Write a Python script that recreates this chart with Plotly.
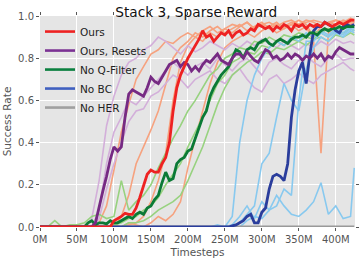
import plotly.graph_objects as go

# ---------------- data ----------------
STEPS_FINE = list(range(0, 430, 5))            # 0..425 M, step 5
STEPS_COARSE = list(range(0, 430, 10)) + [425]  # 0..420 step 10, then 425

ours_mean = [0]*20 + [0.03, 0.04, 0.05, 0.065, 0.06, 0.06, 0.09, 0.14, 0.20, 0.25,
    0.27, 0.26, 0.26, 0.30, 0.33, 0.40, 0.55, 0.66, 0.72, 0.76,
    0.80, 0.83, 0.86, 0.89, 0.93, 0.90, 0.91, 0.88, 0.90, 0.92,
    0.91, 0.93, 0.90, 0.92, 0.93, 0.91, 0.92, 0.94, 0.93, 0.96,
    0.95, 0.94, 0.95, 0.93, 0.95, 0.94, 0.96, 0.95, 0.93, 0.96,
    0.95, 0.96, 0.94, 0.96, 0.95, 0.96, 0.95, 0.97, 0.96, 0.95,
    0.96, 0.97, 0.96, 0.97, 0.98, 0.98]

resets_mean = [0]*15 + [0.02, 0.10, 0.17, 0.24, 0.32, 0.38, 0.36, 0.38, 0.52, 0.63,
    0.65, 0.64, 0.63, 0.62, 0.66, 0.71, 0.69, 0.68, 0.71, 0.74,
    0.77, 0.78, 0.79, 0.76, 0.78, 0.77, 0.74, 0.76, 0.74, 0.77,
    0.79, 0.78, 0.80, 0.82, 0.79, 0.78, 0.77, 0.80, 0.82, 0.82,
    0.80, 0.83, 0.81, 0.79, 0.78, 0.81, 0.84, 0.83, 0.80, 0.81,
    0.79, 0.80, 0.82, 0.80, 0.82, 0.81, 0.79, 0.81, 0.80, 0.82,
    0.80, 0.82, 0.79, 0.81, 0.80, 0.83, 0.85, 0.84, 0.83, 0.82, 0.82]

noq_mean = [0]*13 + [0.02, 0.03, 0.01, 0.02, 0.02, 0.015, 0.03, 0.02, 0.02, 0.03,
    0.04, 0.05, 0.04, 0.06, 0.07, 0.06, 0.09, 0.10, 0.13, 0.15,
    0.21, 0.26, 0.22, 0.23, 0.30, 0.32, 0.33, 0.36, 0.37, 0.42,
    0.46, 0.52, 0.55, 0.62, 0.66, 0.69, 0.72, 0.74, 0.76, 0.80,
    0.84, 0.83, 0.80, 0.84, 0.85, 0.84, 0.87, 0.88, 0.89, 0.87,
    0.86, 0.88, 0.89, 0.88, 0.87, 0.89, 0.90, 0.90, 0.91, 0.90,
    0.92, 0.92, 0.91, 0.93, 0.94, 0.93, 0.94, 0.94, 0.95, 0.94,
    0.95, 0.95, 0.95]

nobc_mean = [0]*52 + [0.005, 0.01, 0.02, 0.03, 0.05, 0.06, 0.02, 0.02,
    0.07, 0.09, 0.18, 0.24, 0.25, 0.24, 0.22, 0.30, 0.52, 0.65,
    0.74, 0.78, 0.68, 0.82, 0.93, 0.95, 0.95, 0.97, 0.96, 0.95,
    0.93, 0.92, 0.95, 0.96, 0.95, 0.96]

noher_mean = [0]*86

ours_runs = [
    [0, 0, 0, 0, 0, 0, 0, 0, 0.02, 0.10, 0.27, 0.45, 0.58, 0.70, 0.76, 0.82, 0.84, 0.88, 0.87, 0.90,
     0.92, 0.90, 0.93, 0.95, 0.92, 0.94, 0.96, 0.95, 0.97, 0.94, 0.96, 0.97, 0.95, 0.97, 0.98, 0.96,
     0.97, 0.98, 0.97, 0.96, 0.98, 0.97, 0.99, 0.98],
    [0, 0, 0, 0, 0, 0, 0, 0, 0, 0, 0, 0.05, 0.15, 0.30, 0.38, 0.46, 0.55, 0.68, 0.80, 0.85,
     0.88, 0.92, 0.90, 0.93, 0.95, 0.92, 0.94, 0.96, 0.93, 0.95, 0.97, 0.94, 0.96, 0.95, 0.97, 0.96,
     0.98, 0.97, 0.95, 0.97, 0.98, 0.96, 0.98, 0.97],
    [0, 0, 0, 0, 0, 0, 0, 0, 0, 0, 0, 0, 0.01, 0.02, 0.05, 0.12, 0.22, 0.35, 0.60, 0.78,
     0.86, 0.90, 0.88, 0.92, 0.90, 0.94, 0.92, 0.95, 0.97, 0.94, 0.96, 0.95, 0.97, 0.94, 0.96, 0.98,
     0.96, 0.90, 0.95, 0.97, 0.96, 0.98, 0.97, 0.98],
    [0, 0, 0, 0, 0, 0, 0, 0, 0, 0, 0.01, 0, 0.02, 0.01, 0, 0.02, 0.05, 0.03, 0.06, 0.12,
     0.28, 0.42, 0.55, 0.68, 0.78, 0.85, 0.88, 0.90, 0.92, 0.90, 0.93, 0.95, 0.92, 0.94, 0.96, 0.93,
     0.95, 0.88, 0.35, 0.92, 0.95, 0.97, 0.96, 0.97],
]

resets_runs = [
    [0, 0, 0, 0, 0, 0, 0, 0.04, 0.22, 0.48, 0.62, 0.72, 0.78, 0.80, 0.84, 0.86, 0.90, 0.88, 0.85, 0.82,
     0.86, 0.83, 0.85, 0.88, 0.86, 0.84, 0.87, 0.85, 0.88, 0.86, 0.89, 0.87, 0.85, 0.88, 0.86, 0.84,
     0.87, 0.85, 0.88, 0.86, 0.89, 0.87, 0.88, 0.87],
    [0, 0, 0, 0, 0, 0, 0, 0, 0.08, 0.30, 0.45, 0.52, 0.60, 0.58, 0.62, 0.66, 0.70, 0.74, 0.78, 0.75,
     0.72, 0.76, 0.78, 0.75, 0.80, 0.77, 0.74, 0.78, 0.80, 0.76, 0.72, 0.78, 0.80, 0.77, 0.75, 0.79,
     0.81, 0.78, 0.76, 0.80, 0.82, 0.79, 0.80, 0.80],
    [0, 0, 0, 0, 0, 0, 0, 0, 0.04, 0.18, 0.30, 0.40, 0.50, 0.55, 0.56, 0.62, 0.64, 0.68, 0.72, 0.70,
     0.66, 0.70, 0.72, 0.74, 0.70, 0.68, 0.72, 0.75, 0.70, 0.66, 0.64, 0.70, 0.72, 0.68, 0.70, 0.73,
     0.70, 0.68, 0.72, 0.74, 0.76, 0.78, 0.75, 0.74],
]

noq_runs = [
    [0, 0, 0.03, 0, 0.01, 0.01, 0.02, 0.05, 0.06, 0.04, 0.05, 0.22, 0.08, 0.12, 0.15, 0.20, 0.28, 0.35, 0.42, 0.48,
     0.55, 0.60, 0.66, 0.72, 0.75, 0.80, 0.82, 0.85, 0.84, 0.88, 0.87, 0.90, 0.88, 0.91, 0.90, 0.92,
     0.91, 0.93, 0.92, 0.94, 0.93, 0.95, 0.94, 0.95],
    [0, 0, 0, 0, 0, 0, 0, 0, 0, 0, 0.01, 0.02, 0.04, 0.05, 0.08, 0.10, 0.14, 0.20, 0.25, 0.30,
     0.38, 0.45, 0.52, 0.60, 0.68, 0.72, 0.78, 0.80, 0.83, 0.82, 0.86, 0.85, 0.88, 0.86, 0.89, 0.88,
     0.90, 0.89, 0.92, 0.90, 0.93, 0.92, 0.94, 0.93],
    [0, 0, 0, 0, 0, 0, 0, 0, 0, 0, 0, 0, 0.02, 0.02, 0.03, 0.05, 0.08, 0.10, 0.12, 0.15,
     0.22, 0.30, 0.38, 0.48, 0.58, 0.66, 0.72, 0.75, 0.78, 0.80, 0.83, 0.82, 0.85, 0.84, 0.86, 0.88,
     0.86, 0.89, 0.90, 0.88, 0.91, 0.90, 0.92, 0.91],
]

nobc_runs = [
    [0, 0, 0, 0, 0, 0, 0, 0, 0, 0, 0, 0, 0, 0, 0, 0, 0, 0, 0, 0,
     0, 0, 0, 0, 0.01, 0, 0.05, 0.40, 0.60, 0.72, 0.80, 0.85, 0.88, 0.86, 0.90, 0.88,
     0.92, 0.90, 0.93, 0.91, 0.94, 0.92, 0.95, 0.94],
    [0, 0, 0, 0, 0, 0, 0, 0, 0, 0, 0, 0, 0, 0, 0, 0, 0, 0, 0, 0,
     0, 0, 0, 0, 0, 0, 0, 0.02, 0.06, 0.10, 0.30, 0.35, 0.52, 0.68, 0.60, 0.55, 0.75,
     0.85, 0.90, 0.88, 0.92, 0.90, 0.93, 0.92],
    [0, 0, 0, 0, 0, 0, 0, 0, 0, 0, 0, 0, 0, 0, 0, 0, 0, 0, 0, 0,
     0, 0, 0, 0, 0, 0, 0, 0, 0.03, 0.05, 0.04, 0.08, 0.10, 0.18, 0.15, 0.60, 0.88,
     0.88, 0.92, 0.90, 0.93, 0.91, 0.94, 0.93],
    [0, 0, 0, 0, 0, 0, 0, 0, 0, 0, 0, 0, 0, 0, 0, 0, 0, 0, 0, 0,
     0, 0, 0, 0, 0, 0, 0.01, 0.05, 0.10, 0.04, 0.12, 0.08, 0.15, 0.10, 0.06, 0.05, 0.08,
     0.12, 0.21, 0.06, 0.10, 0.04, 0.05, 0.28],
]

LEGEND_NAMES = ["Ours", "Ours, Resets", "No Q-Filter", "No BC", "No HER"]
X_TICKS = [0, 50, 100, 150, 200, 250, 300, 350, 400]
X_TICK_LABELS = ["0M", "50M", "100M", "150M", "200M", "250M", "300M", "350M", "400M"]
Y_TICKS = [0.0, 0.2, 0.4, 0.6, 0.8, 1.0]
Y_TICK_LABELS = ["0.0", "0.2", "0.4", "0.6", "0.8", "1.0"]

# ---------------- styles ----------------
DARK = ["#ee2222", "#762a83", "#0b7a36", "#2a3d9c", "#999999"]
LIGHT = ["#f6a27f", "#d3afda", "#97d27f", "#88c9ef", "#bbbbbb"]
LEGEND_COLORS = ["#ee2222", "#7b3294", "#0b8040", "#4060c0", "#a0a0a0"]

fig = go.Figure()

for runs, col in [(ours_runs, LIGHT[0]), (resets_runs, LIGHT[1]),
                  (noq_runs, LIGHT[2]), (nobc_runs, LIGHT[3])]:
    for r in runs:
        fig.add_trace(go.Scatter(x=STEPS_COARSE, y=r, mode="lines",
                                 line=dict(color=col, width=1.6),
                                 showlegend=False, hoverinfo="skip"))

means = [ours_mean, resets_mean, noq_mean, nobc_mean, noher_mean]
order = [4, 3, 2, 1, 0]
for i in order:
    fig.add_trace(go.Scatter(x=STEPS_FINE, y=means[i], mode="lines",
                             line=dict(color=DARK[i], width=2.8),
                             showlegend=False))

# legend entries (legend samples drawn in the legend only)
for i, name in enumerate(LEGEND_NAMES):
    fig.add_trace(go.Scatter(x=[None], y=[None], mode="lines", name=name,
                             line=dict(color=LEGEND_COLORS[i], width=2.6),
                             showlegend=True))

fig.update_layout(
    width=360, height=262,
    margin=dict(l=40, r=5, t=16, b=35),
    paper_bgcolor="white",
    plot_bgcolor="#e5e5e5",
    font=dict(family="DejaVu Sans", size=10, color="#555555"),
    title=dict(text="Stack 3, Sparse Reward", x=0.545, xanchor="center",
               y=0.937, yanchor="bottom",
               font=dict(size=13.7, color="#111111")),
    legend=dict(x=0.0, y=0.995, xanchor="left", yanchor="top",
                bgcolor="rgba(0,0,0,0)", font=dict(size=10.5, color="#222222"),
                tracegroupgap=0, itemwidth=30),
    showlegend=True,
)
fig.update_xaxes(range=[0, 426], tickvals=X_TICKS, ticktext=X_TICK_LABELS,
                 showgrid=True, gridcolor="white", gridwidth=1,
                 zeroline=False, ticks="outside", ticklen=3, tickcolor="#555555",
                 mirror="ticks", showline=False,
                 title=dict(text="Timesteps", font=dict(size=10.5, color="#555555"), standoff=4))
fig.update_yaxes(range=[0, 1], tickvals=Y_TICKS, ticktext=Y_TICK_LABELS,
                 showgrid=True, gridcolor="white", gridwidth=1,
                 zeroline=False, ticks="outside", ticklen=3, tickcolor="#555555",
                 mirror="ticks", showline=False,
                 title=dict(text="Success Rate", font=dict(size=10.5, color="#555555"), standoff=4))

fig.write_html("out.html", config={"displayModeBar": False},
               post_script="document.body.style.margin='0';document.body.style.overflow='hidden';")
